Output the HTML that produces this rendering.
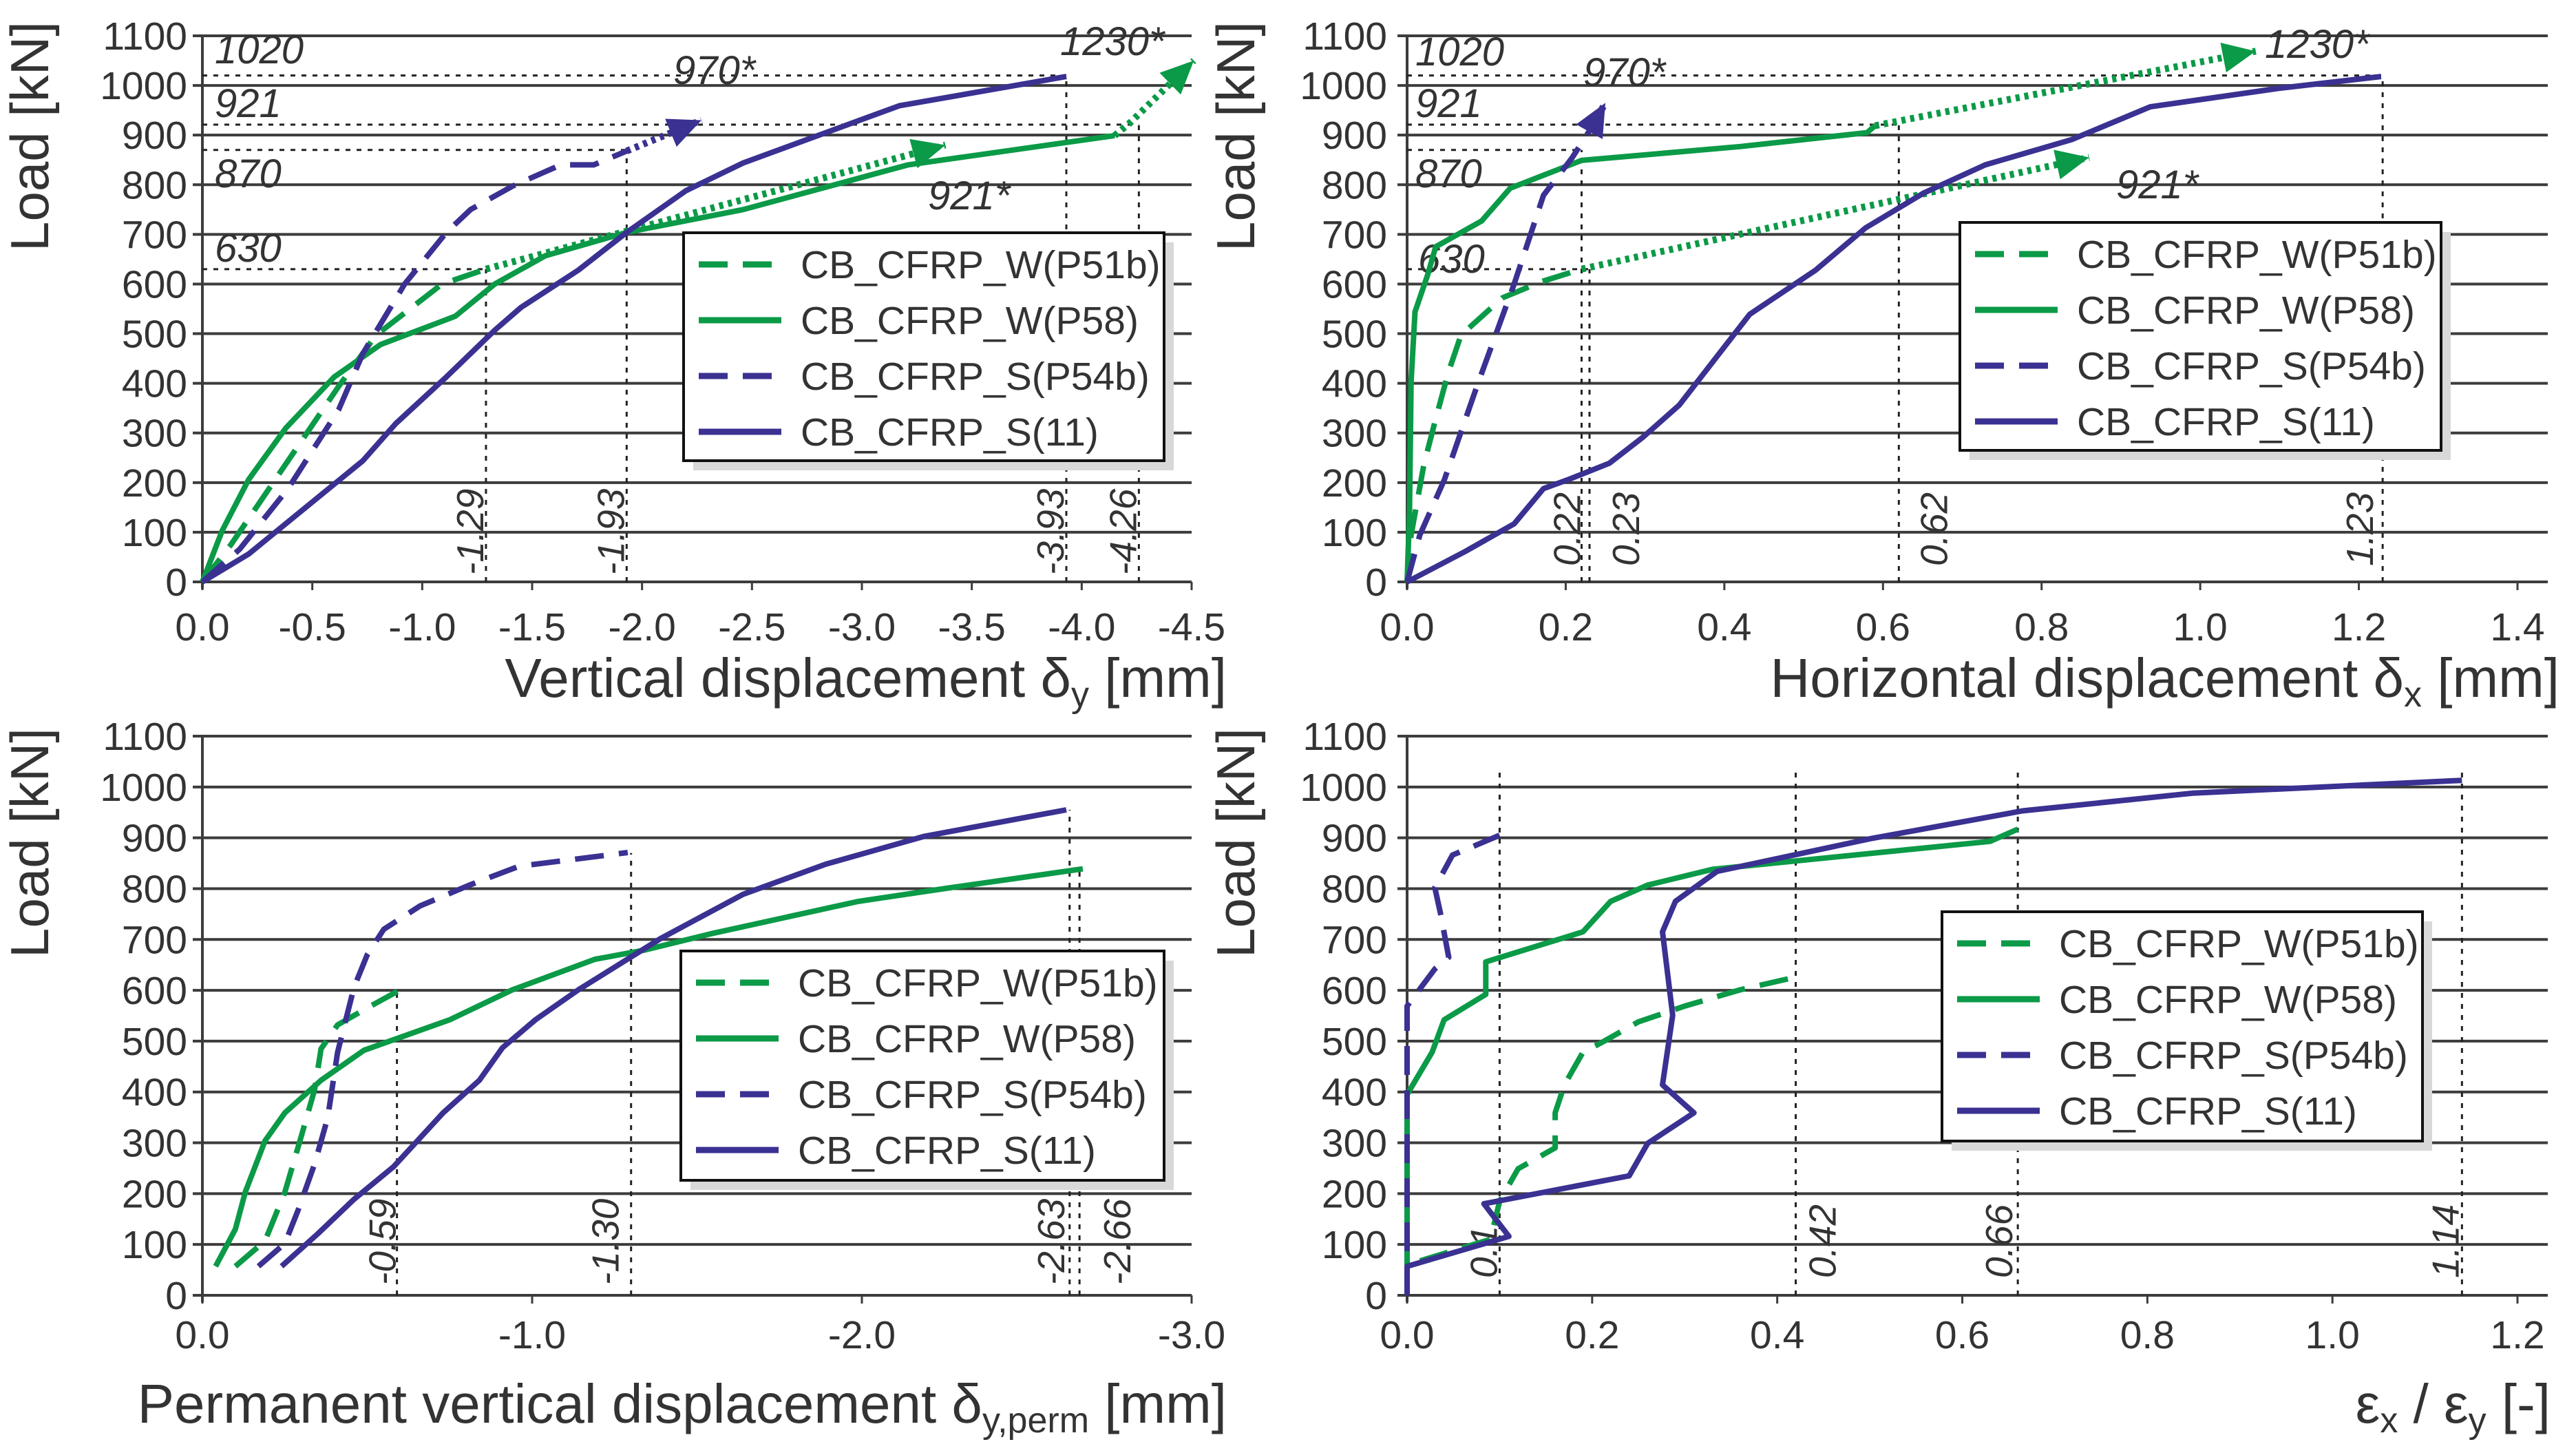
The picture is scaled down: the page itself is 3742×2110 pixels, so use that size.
<!DOCTYPE html>
<html><head><meta charset="utf-8"><style>
html,body{margin:0;padding:0;background:#fff;}
svg{display:block;}
text{font-family:"Liberation Sans",sans-serif;fill:#333;}
</style></head><body>
<svg id="chart" width="3742" height="2110" viewBox="0 0 3742 2110" xmlns="http://www.w3.org/2000/svg"></svg>
<script>
// ---------- data ----------
const yTicks = [0,100,200,300,400,500,600,700,800,900,1000,1100];
const seriesNames = ["CB_CFRP_W(P51b)","CB_CFRP_W(P58)","CB_CFRP_S(P54b)","CB_CFRP_S(11)"];

// Panel 1: vertical displacement
const p1xTicks = [0,-0.5,-1,-1.5,-2,-2.5,-3,-3.5,-4,-4.5];
const p1W51x = [0,-0.13,-0.62,-0.79,-1.09,-1.29];
const p1W51y = [0,75,394,497,600,630];
const p1W58x = [0,-0.09,-0.21,-0.38,-0.60,-0.81,-1.15,-1.33,-1.56,-1.93,-2.46,-3.21,-4.15];
const p1W58y = [0,103,206,310,413,478,535,600,657,704,750,840,899];
const p1S54x = [0,-0.17,-0.39,-0.62,-0.73,-0.92,-1.11,-1.22,-1.41,-1.63,-1.78,-1.93];
const p1S54y = [0,66,188,347,460,600,704,750,797,840,840,868];
const p1S11x = [0,-0.21,-0.73,-0.88,-1.11,-1.33,-1.45,-1.71,-1.93,-2.20,-2.46,-3.17,-3.93];
const p1S11y = [0,56,244,319,413,507,553,628,704,788,844,959,1018];
const p1ExtW51x = [-1.29,-3.38]; const p1ExtW51y = [630,880];
const p1ExtW58x = [-4.15,-4.22,-4.51]; const p1ExtW58y = [899,925,1050];
const p1ExtS54x = [-1.93,-2.27]; const p1ExtS54y = [868,930];
const p1RefX = [-1.29,-1.93,-3.93,-4.26];
const p1RefY = [630,870,1020,921];
const p1RefLbl = ["-1.29","-1.93","-3.93","-4.26"];

// Panel 2: horizontal displacement
const p2xTicks = [0,0.2,0.4,0.6,0.8,1.0,1.2,1.4];
const p2W51x = [0,0.005,0.021,0.036,0.052,0.068,0.12,0.17,0.22];
const p2W51y = [0,94,235,328,422,497,572,605,630];
const p2W58x = [0,0.003,0.005,0.01,0.026,0.036,0.094,0.13,0.22,0.42,0.58,0.59];
const p2W58y = [0,141,403,544,619,675,727,793,849,877,905,919];
const p2S54x = [0,0.016,0.047,0.088,0.135,0.172,0.208,0.234];
const p2S54y = [0,94,206,394,600,779,854,919];
const p2S11x = [0,0.073,0.135,0.172,0.203,0.255,0.297,0.343,0.432,0.515,0.578,0.651,0.729,0.838,0.937,1.098,1.228];
const p2S11y = [0,61,117,188,206,239,291,356,539,628,713,783,840,891,957,994,1018];
const p2ExtW51x = [0.22,0.86]; const p2ExtW51y = [630,855];
const p2ExtW58x = [0.59,1.07]; const p2ExtW58y = [919,1069];
const p2ExtS54x = [0.234,0.25]; const p2ExtS54y = [919,965];
const p2RefX = [0.22,0.23,0.62,1.23];
const p2RefY = [870,630,921,1020];
const p2RefLbl = ["0.22","0.23","0.62","1.23"];

// Panel 3: permanent vertical displacement
const p3xTicks = [0,-1,-2,-3];
const p3W51x = [-0.10,-0.19,-0.25,-0.30,-0.34,-0.36,-0.41,-0.51,-0.60];
const p3W51y = [57,107,203,313,404,485,532,569,601];
const p3W58x = [-0.04,-0.10,-0.13,-0.19,-0.25,-0.36,-0.49,-0.75,-0.94,-1.19,-1.34,-1.54,-1.99,-2.27,-2.67];
const p3W58y = [57,130,203,304,359,423,482,542,601,661,679,711,775,802,839];
const p3S54x = [-0.17,-0.25,-0.29,-0.34,-0.38,-0.41,-0.46,-0.50,-0.55,-0.66,-0.81,-0.96,-1.29];
const p3S54y = [57,102,167,258,349,478,606,670,720,766,807,844,871];
const p3S11x = [-0.24,-0.35,-0.46,-0.58,-0.73,-0.84,-0.91,-1.01,-1.14,-1.39,-1.64,-1.89,-2.19,-2.62];
const p3S11y = [57,121,189,253,359,423,487,542,601,702,789,848,903,955];
const p3RefX = [-0.59,-1.30,-2.63,-2.66];
const p3RefY = [600,870,955,840];
const p3RefLbl = ["-0.59","-1.30","-2.63","-2.66"];

// Panel 4: strain ratio
const p4xTicks = [0,0.2,0.4,0.6,0.8,1.0,1.2];
const p4W51x = [0,0,0.09,0.10,0.12,0.16,0.16,0.17,0.19,0.21,0.25,0.30,0.36,0.42];
const p4W51y = [0,60,110,185,249,290,359,414,478,497,538,569,601,626];
const p4W58x = [0,0,0.027,0.04,0.085,0.085,0.19,0.22,0.26,0.33,0.63,0.66];
const p4W58y = [0,395,478,542,592,656,715,775,807,838,893,917];
const p4S54x = [0,0,0.03,0.045,0.036,0.03,0.049,0.10];
const p4S54y = [0,569,642,665,752,802,866,905];
const p4S11x = [0,0,0.11,0.083,0.24,0.26,0.31,0.276,0.287,0.276,0.29,0.335,0.50,0.665,0.85,1.14];
const p4S11y = [0,57,116,180,235,299,359,414,551,715,775,834,898,953,988,1013];
const p4RefX = [0.1,0.42,0.66,1.14];
const p4RefY = [1030,1030,1030,1030];
const p4RefLbl = ["0.1","0.42","0.66","1.14"];

// ---------- drawing ----------
const NS = "http://www.w3.org/2000/svg";
const svg = document.getElementById("chart");
const GREEN = "#0b9a47", PURPLE = "#3a3192";
function mk(tag, attrs, parent){ const e=document.createElementNS(NS,tag); for(const k in attrs) e.setAttribute(k,attrs[k]); (parent||svg).appendChild(e); return e; }

function panel(cfg){
  const g = mk("g",{});
  
  
  const sx = v => cfg.x0 + (v - cfg.xmin)/(cfg.xmax - cfg.xmin)*(cfg.x1 - cfg.x0);
  const sy = v => cfg.y0 + v/1100*(cfg.y1 - cfg.y0);
  yTicks.forEach(t=>{
    const l = mk("line",{x1:cfg.x0-14,x2:cfg.gridEnd,y1:sy(t),y2:sy(t),stroke:"#3c3c3c","stroke-width":4},g);
    
    
    const tx = mk("text",{x:cfg.ylblX,y:sy(t)+20,"font-size":57,"text-anchor":"end"},g);
    tx.textContent = t;
    
    
  });
  mk("line",{x1:cfg.x0,x2:cfg.x0,y1:cfg.y0+10,y2:sy(1100),stroke:"#3c3c3c","stroke-width":4},g);
  cfg.xTicks.forEach(t=>{
    mk("line",{x1:sx(t),x2:sx(t),y1:cfg.y0,y2:cfg.y0+12,stroke:"#3c3c3c","stroke-width":3},g);
    const tx = mk("text",{x:sx(t),y:cfg.xlblY,"font-size":57,"text-anchor":"middle"},g);
    tx.textContent = cfg.fmt(t);
    
    
  });
  cfg.refX.forEach((rx,i)=>{
    mk("line",{x1:sx(rx),x2:sx(rx),y1:cfg.y0,y2:sy(cfg.refY[i]),stroke:"#222","stroke-width":3,"stroke-dasharray":"7 9"},g);
    if(cfg.hRef) mk("line",{x1:cfg.x0,x2:sx(rx),y1:sy(cfg.refY[i]),y2:sy(cfg.refY[i]),stroke:"#222","stroke-width":3,"stroke-dasharray":"7 9"},g);
    const bx = sx(rx) + cfg.refOff[i];
    const tx = mk("text",{x:0,y:0,"font-size":55,"font-style":"italic",transform:`translate(${bx},${cfg.refBottom}) rotate(-90)`},g);
    tx.textContent = cfg.refLbl[i];
    
    
  });
  (cfg.notes||[]).forEach(n=>{
    const tx = mk("text",{x:n[1],y:n[2],"font-size":58,"font-style":"italic"},g);
    tx.textContent = n[0];
    
    
  });
  const line = (xs,ys,color,dash,name)=>{
    const d = xs.map((x,i)=>(i?"L":"M")+sx(x).toFixed(1)+","+sy(ys[i]).toFixed(1)).join(" ");
    const p = mk("path",{d,fill:"none",stroke:color,"stroke-width":8,"stroke-linejoin":"round"},g);
    if(dash) p.setAttribute("stroke-dasharray","42 22");
    
    
  };
  const ext = (xs,ys,color)=>{
    if(!xs) return;
    const d = xs.map((x,i)=>(i?"L":"M")+sx(x).toFixed(1)+","+sy(ys[i]).toFixed(1)).join(" ");
    const p = mk("path",{d,fill:"none",stroke:color,"stroke-width":10,"stroke-dasharray":"6 7"},g);
    
    
    const n=xs.length; const ax=sx(xs[n-1]), ay=sy(ys[n-1]), bx=sx(xs[n-2]), by=sy(ys[n-2]);
    const ang = Math.atan2(ay-by, ax-bx)*180/Math.PI;
    const a = mk("path",{d:"M0,0 L-48,-22 L-48,22 Z",fill:color,transform:`translate(${ax},${ay}) rotate(${ang})`},g);
    
    
  };
  ext(cfg.e51x,cfg.e51y,GREEN); ext(cfg.e58x,cfg.e58y,GREEN); ext(cfg.e54x,cfg.e54y,PURPLE);
  line(cfg.s[0][0],cfg.s[0][1],GREEN,true,"series-w-p51b");
  line(cfg.s[1][0],cfg.s[1][1],GREEN,false,"series-w-p58");
  line(cfg.s[2][0],cfg.s[2][1],PURPLE,true,"series-s-p54b");
  line(cfg.s[3][0],cfg.s[3][1],PURPLE,false,"series-s-11");
  const L = cfg.leg;
  const lg = mk("g",{},g);
  
  
  mk("rect",{x:L[0]+14,y:L[1]+14,width:L[2]-L[0],height:L[3]-L[1],fill:"#d8d8d8"},lg);
  mk("rect",{x:L[0],y:L[1],width:L[2]-L[0],height:L[3]-L[1],fill:"#fff",stroke:"#111","stroke-width":4},lg);
  seriesNames.forEach((nm,i)=>{
    const yy = L[1]+46+i*81;
    const ll = mk("line",{x1:L[0]+22,x2:L[0]+142,y1:yy,y2:yy,stroke:i<2?GREEN:PURPLE,"stroke-width":9},lg);
    if(i%2===0) ll.setAttribute("stroke-dasharray","42 22");
    const tx = mk("text",{x:L[0]+170,y:yy+20,"font-size":57},lg);
    tx.textContent = nm;
    
    
  });
  const yt = mk("text",{x:0,y:0,"font-size":78,"text-anchor":"middle",transform:`translate(${cfg.ytX},${cfg.ytY}) rotate(-90)`},g);
  yt.textContent = "Load  [kN]";
  
  
  const xt = mk("text",{x:cfg.xtX,y:cfg.xtY,"font-size":80,"text-anchor":"end"},g);
  xt.innerHTML = cfg.xtitle;
  
  
}

const f1 = t => t===0?"0.0":t.toFixed(1);
panel({name:"panel-vertical-displacement",x0:294,x1:1731,xmin:0,xmax:-4.5,y0:845,y1:52,gridEnd:1731,ylblX:272,xlblY:930,
  xTicks:p1xTicks,fmt:f1,refX:p1RefX,refY:p1RefY,refLbl:p1RefLbl,refOff:[-4,-4,-4,-4],refBottom:835,hRef:true,
  notes:[["1020",312,92],["921",312,170],["870",312,272],["630",312,380],["970*",978,122],["1230*",1540,80],["921*",1348,304]],
  s:[[p1W51x,p1W51y],[p1W58x,p1W58y],[p1S54x,p1S54y],[p1S11x,p1S11y]],
  e51x:p1ExtW51x,e51y:p1ExtW51y,e58x:p1ExtW58x,e58y:p1ExtW58y,e54x:p1ExtS54x,e54y:p1ExtS54y,
  leg:[993,338,1691,669],ytX:70,ytY:198,xtX:1782,xtY:1012,
  xtitle:'Vertical displacement δ<tspan font-size="52" dy="14">y</tspan><tspan dy="-14"> [mm]</tspan>'});
panel({name:"panel-horizontal-displacement",x0:2044,x1:3657,xmin:0,xmax:1.4,y0:845,y1:52,gridEnd:3701,ylblX:2015,xlblY:930,
  xTicks:p2xTicks,fmt:f1,refX:p2RefX,refY:p2RefY,refLbl:p2RefLbl,refOff:[-2,72,70,-14],refBottom:822,hRef:true,
  notes:[["1020",2056,95],["921",2056,170],["870",2056,272],["630",2060,396],["970*",2300,125],["1230*",3290,84],["921*",3074,288]],
  s:[[p2W51x,p2W51y],[p2W58x,p2W58y],[p2S54x,p2S54y],[p2S11x,p2S11y]],
  e51x:p2ExtW51x,e51y:p2ExtW51y,e58x:p2ExtW58x,e58y:p2ExtW58y,e54x:p2ExtS54x,e54y:p2ExtS54y,
  leg:[2847,323,3546,654],ytX:1822,ytY:198,xtX:3718,xtY:1012,
  xtitle:'Horizontal displacement δ<tspan font-size="52" dy="14">x</tspan><tspan dy="-14"> [mm]</tspan>'});
panel({name:"panel-permanent-displacement",x0:294,x1:1731,xmin:0,xmax:-3,y0:1881,y1:1069,gridEnd:1731,ylblX:272,xlblY:1958,
  xTicks:p3xTicks,fmt:f1,refX:p3RefX,refY:p3RefY,refLbl:p3RefLbl,refOff:[-2,-18,-8,74],refBottom:1866,hRef:false,
  s:[[p3W51x,p3W51y],[p3W58x,p3W58y],[p3S54x,p3S54y],[p3S11x,p3S11y]],
  leg:[989,1381,1691,1714],ytX:70,ytY:1224,xtX:1782,xtY:2066,
  xtitle:'Permanent vertical displacement δ<tspan font-size="52" dy="14">y,perm</tspan><tspan dy="-14"> [mm]</tspan>'});
panel({name:"panel-strain-ratio",x0:2044,x1:3657,xmin:0,xmax:1.2,y0:1881,y1:1069,gridEnd:3701,ylblX:2015,xlblY:1958,
  xTicks:p4xTicks,fmt:f1,refX:p4RefX,refY:p4RefY,refLbl:p4RefLbl,refOff:[-4,58,-8,-5],refBottom:1856,hRef:false,
  s:[[p4W51x,p4W51y],[p4W58x,p4W58y],[p4S54x,p4S54y],[p4S11x,p4S11y]],
  leg:[2821,1324,3519,1657],ytX:1822,ytY:1224,xtX:3705,xtY:2066,
  xtitle:'ε<tspan font-size="52" dy="14">x</tspan><tspan dy="-14"> / ε</tspan><tspan font-size="52" dy="14">y</tspan><tspan dy="-14"> [-]</tspan>'});
</script>
</body></html>
